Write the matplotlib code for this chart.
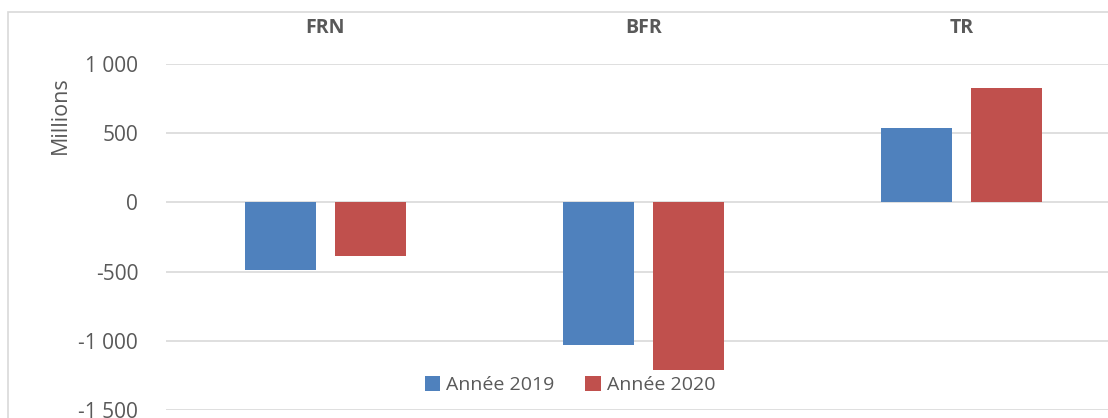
import matplotlib.pyplot as plt
from matplotlib.patches import Rectangle
from matplotlib.ticker import FuncFormatter
import numpy as np

categories = ['FRN', 'BFR', 'TR']
series_names = ['Année 2019', 'Année 2020']
values_2019 = [-487, -1028, 535]
values_2020 = [-384, -1213, 828]
yticks = [-1500, -1000, -500, 0, 500, 1000]

plt.rcParams['font.family'] = ['Open Sans', 'DejaVu Sans']
W, H = 1108, 418
fig = plt.figure(figsize=(W / 100, H / 100), dpi=100)

# plot area (pixel coords, cropped on the right like the source image)
left, right, top, bottom = 166, 1121, 64, 410
ax = fig.add_axes([left / W, 1 - bottom / H, (right - left) / W, (bottom - top) / H])

# chart border
fig.patches.append(Rectangle((8 / W, -0.1), 1.2, 1 - 12 / H + 0.1, transform=fig.transFigure,
                             fill=False, edgecolor='#D9D9D9', linewidth=1.2))

x = np.arange(len(categories))
width = 0.223
offset = 0.1415
ax.bar(x - offset, values_2019, width, color='#4F81BD', label=series_names[0], zorder=3)
ax.bar(x + offset, values_2020, width, color='#C0504D', label=series_names[1], zorder=3)

ax.set_xlim(-0.5, len(categories) - 0.5)
ax.set_ylim(-1500, 1000)
ax.set_yticks(yticks)
ax.yaxis.set_major_formatter(FuncFormatter(lambda v, p: f'{int(v):,}'.replace(',', ' ')))
ax.grid(axis='y', color='#D9D9D9', linewidth=1.2, zorder=0)
ax.tick_params(axis='y', length=0, pad=20, labelsize=15, labelcolor='#595959')
ax.xaxis.tick_top()
ax.set_xticks(x)
ax.set_xticklabels(categories, fontweight='bold', fontsize=14, color='#595959')
ax.tick_params(axis='x', length=0, pad=19)
for s in ax.spines.values():
    s.set_visible(False)

fig.text(60 / W, 1 - 115 / H, 'Millions', rotation=90, ha='center', va='center',
         fontsize=15.5, color='#595959')

ax.legend(loc='center', bbox_to_anchor=((570 - left) / (right - left), (bottom - 385) / (bottom - top)),
          ncol=2, frameon=False, fontsize=14, handlelength=0.8, handleheight=0.8,
          handletextpad=0.3, columnspacing=1.6, labelcolor='#595959')

fig.savefig('out.png', dpi=100)
